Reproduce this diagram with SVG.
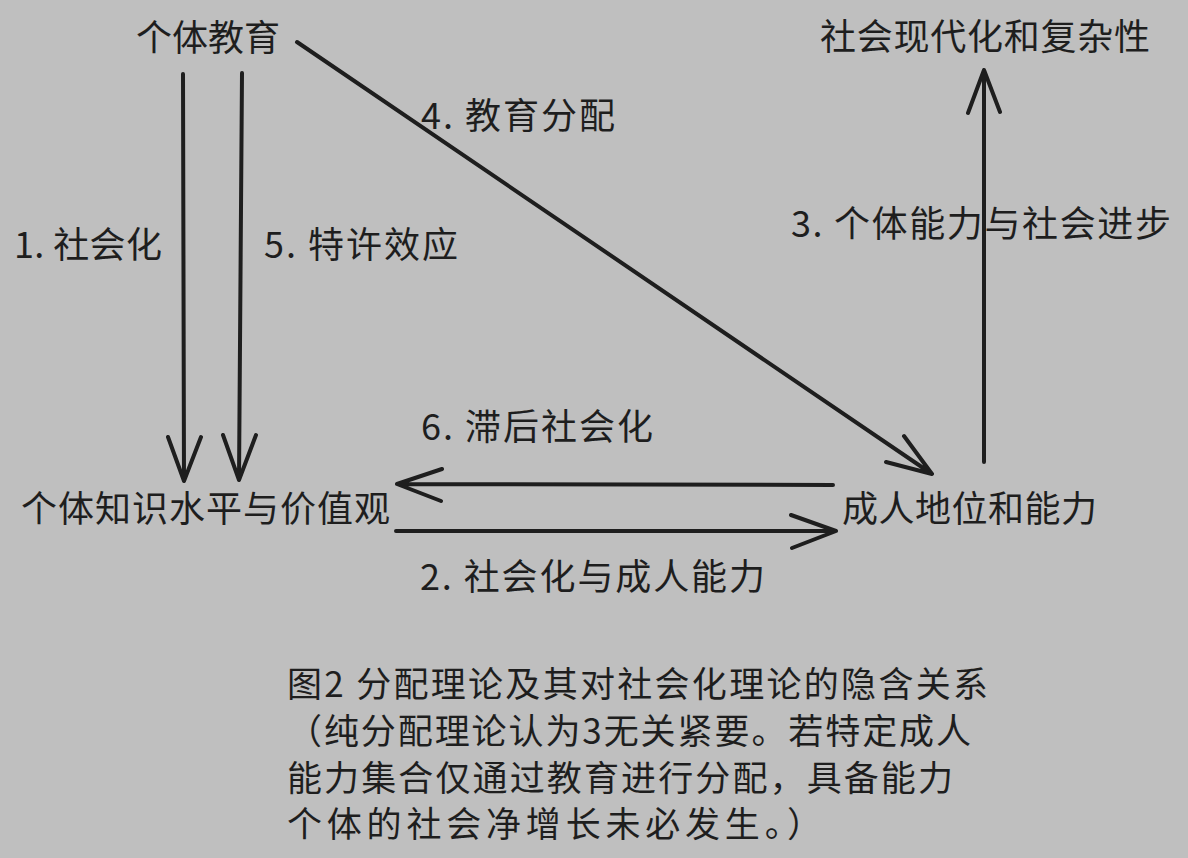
<svg xmlns="http://www.w3.org/2000/svg" width="1188" height="858" viewBox="0 0 1188 858">
<style>
text{font-family:"Noto Sans CJK SC","Noto Sans",sans-serif;font-size:36px;fill:#1e1e1e;dominant-baseline:central}
.ln{fill:none;stroke:#1e1e1e;stroke-width:4;stroke-linecap:round;stroke-linejoin:round}
.cap{font-size:35px}
</style>
<rect width="1188" height="858" fill="#bfbfbf"/>
<g id="node-education"><text x="136" y="35">个体教育</text></g>
<g id="node-modernization"><text x="820" y="34" textLength="330" lengthAdjust="spacing">社会现代化和复杂性</text></g>
<g id="node-knowledge"><text x="21" y="506" textLength="369" lengthAdjust="spacing">个体知识水平与价值观</text></g>
<g id="node-adult"><text x="842" y="506" textLength="255" lengthAdjust="spacing">成人地位和能力</text></g>
<g id="connectors">
<path class="ln" d="M183 74 L184 481 M168 437 L184 481 L201 437"/>
<path class="ln" d="M242 73 L239 480 M223 435 L239 480 L256 435"/>
<path class="ln" d="M297 42 L932 474 M904 436 L932 474 L886 462"/>
<path class="ln" d="M984 462 L984 70 M968 113 L984 70 L1000 112"/>
<path class="ln" d="M833 485 L397 484 M442 469 L397 484 L441 501"/>
<path class="ln" d="M396 531 L836 531 M791 515 L836 531 L792 548"/>
</g>
<g id="labels">
<text x="14" y="242" textLength="148" lengthAdjust="spacing">1. 社会化</text>
<text x="264" y="242" textLength="194" lengthAdjust="spacing">5. 特许效应</text>
<text x="421" y="113" textLength="194" lengthAdjust="spacing">4. 教育分配</text>
<text x="791" y="221" textLength="380" lengthAdjust="spacing">3. 个体能力与社会进步</text>
<text x="421" y="424" textLength="232" lengthAdjust="spacing">6. 滞后社会化</text>
<text x="420" y="574" textLength="345" lengthAdjust="spacing">2. 社会化与成人能力</text>
</g>
<g id="caption">
<text class="cap" x="287" y="681" textLength="701" lengthAdjust="spacing">图2 分配理论及其对社会化理论的隐含关系</text>
<text class="cap" x="287" y="728" textLength="684" lengthAdjust="spacing">（纯分配理论认为3无关紧要。若特定成人</text>
<text class="cap" x="287" y="775" textLength="666" lengthAdjust="spacing">能力集合仅通过教育进行分配，具备能力</text>
<text class="cap" x="287" y="821" textLength="535" lengthAdjust="spacing">个体的社会净增长未必发生。）</text>
</g>
</svg>
